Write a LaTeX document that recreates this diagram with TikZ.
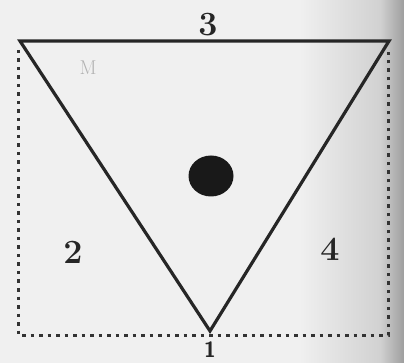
\documentclass[tikz,border=0pt]{standalone}
\usetikzlibrary{shadings,shapes.geometric}
\begin{document}
\begin{tikzpicture}[x=1pt,y=-1pt,
  tri/.style={line width=3.2pt,line join=miter,draw=black!85},
  dotline/.style={line width=3pt,draw=black!80,dash pattern=on 3.5pt off 5pt},
  num/.style={font=\bfseries\fontsize{34}{36}\selectfont,text=black!85},
  blob/.style={fill=black!90,draw=none}]
\useasboundingbox (0,0) rectangle (404,363);
\fill[black!6] (0,0) rectangle (404,363);
\shade[left color=black!6,right color=black!18] (300,0) rectangle (380,363);
\shade[left color=black!18,right color=black!38] (380,0) rectangle (404,363);
\coordinate (tl) at (20,41);
\coordinate (tr) at (389,41);
\coordinate (bv) at (210,331);
\coordinate (lb) at (18,335);
\coordinate (rb) at (388,335);
\coordinate (lt) at (18,50);
\coordinate (rt) at (388,52);
\draw[tri] (tl) -- (tr) -- (bv) -- cycle;
\draw[dotline] (lt) -- (lb) -- (rb) -- (rt);
\node[blob,ellipse,minimum width=45pt,minimum height=41pt,inner sep=0pt] (dot) at (211,176) {};
\node[num] (n3) at (208,25) {3};
\node[num] (n2) at (73,252) {2};
\node[num] (n4) at (330,249) {4};
\node[num,font=\bfseries\fontsize{22}{24}\selectfont\sffamily] (n1) at (210,350) {1};
\node[text=black!30,font=\fontsize{20}{22}\selectfont] (m) at (88,68) {M};
\end{tikzpicture}
\end{document}
